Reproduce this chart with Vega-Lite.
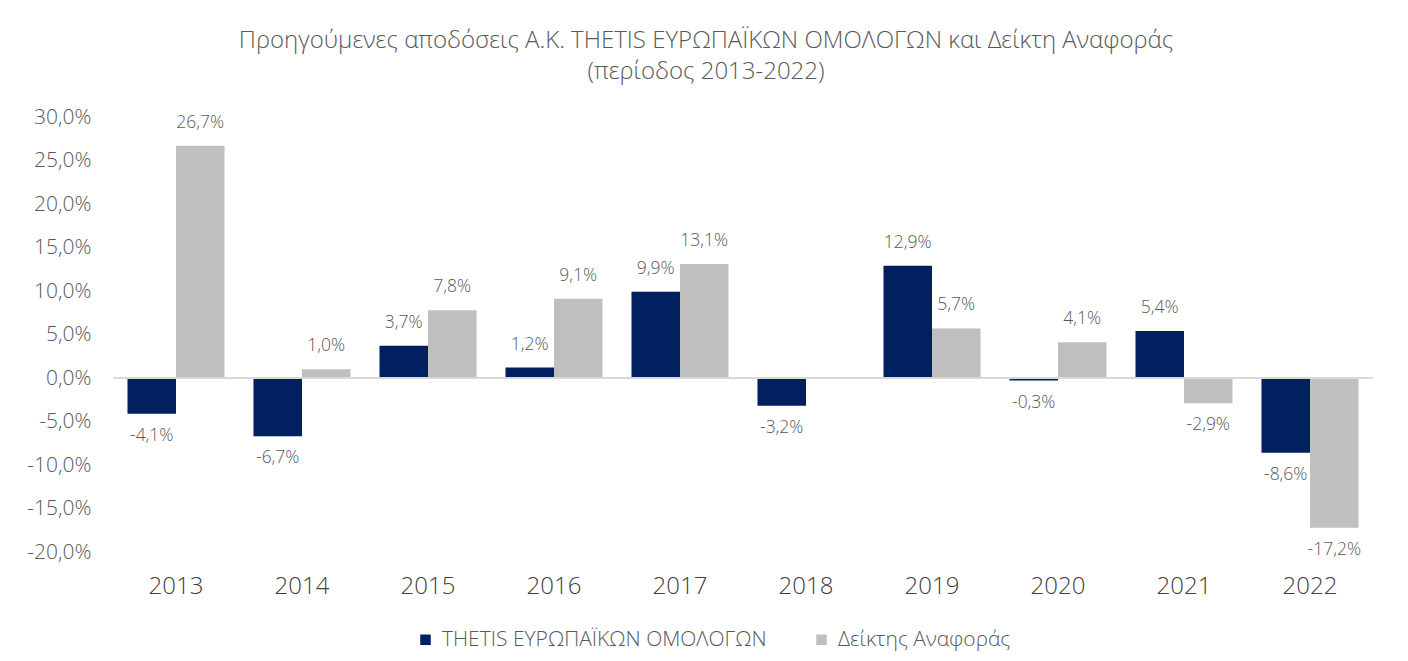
{
  "$schema": "https://vega.github.io/schema/vega-lite/v6.json",
  "width": 1260,
  "height": 435,
  "autosize": {"type": "none"},
  "padding": {"left": 113, "top": 117, "right": 35, "bottom": 109},
  "background": "white",
  "title": {
    "text": ["Προηγούμενες αποδόσεις Α.Κ. THETIS ΕΥΡΩΠΑΪΚΩΝ ΟΜΟΛΟΓΩΝ και Δείκτη Αναφοράς", "(περίοδος 2013-2022)"],
    "fontSize": 24,
    "font": "Open Sans",
    "fontWeight": 300,
    "color": "#595959",
    "lineHeight": 31,
    "offset": 22,
    "dx": -37,
    "anchor": "middle"
  },
  "config": {
    "locale": {"number": {"decimal": ",", "thousands": ".", "grouping": [3], "currency": ["", "€"], "minus": "-"}},
    "view": {"stroke": null},
    "font": "Open Sans"
  },
  "data": {
    "values": [
      {"year": "2013", "series": "THETIS ΕΥΡΩΠΑΪΚΩΝ ΟΜΟΛΟΓΩΝ", "value": -0.041},
      {"year": "2013", "series": "Δείκτης Αναφοράς", "value": 0.267},
      {"year": "2014", "series": "THETIS ΕΥΡΩΠΑΪΚΩΝ ΟΜΟΛΟΓΩΝ", "value": -0.067},
      {"year": "2014", "series": "Δείκτης Αναφοράς", "value": 0.010},
      {"year": "2015", "series": "THETIS ΕΥΡΩΠΑΪΚΩΝ ΟΜΟΛΟΓΩΝ", "value": 0.037},
      {"year": "2015", "series": "Δείκτης Αναφοράς", "value": 0.078},
      {"year": "2016", "series": "THETIS ΕΥΡΩΠΑΪΚΩΝ ΟΜΟΛΟΓΩΝ", "value": 0.012},
      {"year": "2016", "series": "Δείκτης Αναφοράς", "value": 0.091},
      {"year": "2017", "series": "THETIS ΕΥΡΩΠΑΪΚΩΝ ΟΜΟΛΟΓΩΝ", "value": 0.099},
      {"year": "2017", "series": "Δείκτης Αναφοράς", "value": 0.131},
      {"year": "2018", "series": "THETIS ΕΥΡΩΠΑΪΚΩΝ ΟΜΟΛΟΓΩΝ", "value": -0.032},
      {"year": "2019", "series": "THETIS ΕΥΡΩΠΑΪΚΩΝ ΟΜΟΛΟΓΩΝ", "value": 0.129},
      {"year": "2019", "series": "Δείκτης Αναφοράς", "value": 0.057},
      {"year": "2020", "series": "THETIS ΕΥΡΩΠΑΪΚΩΝ ΟΜΟΛΟΓΩΝ", "value": -0.003},
      {"year": "2020", "series": "Δείκτης Αναφοράς", "value": 0.041},
      {"year": "2021", "series": "THETIS ΕΥΡΩΠΑΪΚΩΝ ΟΜΟΛΟΓΩΝ", "value": 0.054},
      {"year": "2021", "series": "Δείκτης Αναφοράς", "value": -0.029},
      {"year": "2022", "series": "THETIS ΕΥΡΩΠΑΪΚΩΝ ΟΜΟΛΟΓΩΝ", "value": -0.086},
      {"year": "2022", "series": "Δείκτης Αναφοράς", "value": -0.172}
    ]
  },
  "encoding": {
    "x": {
      "field": "year",
      "type": "nominal",
      "title": null,
      "scale": {"paddingInner": 0.23, "paddingOuter": 0.115},
      "axis": {"labelAngle": 0, "labelFontSize": 24, "labelFontWeight": 300, "labelColor": "#404040", "domain": false, "ticks": false, "labelPadding": 22}
    },
    "xOffset": {"field": "series", "type": "nominal", "scale": {"domain": ["THETIS ΕΥΡΩΠΑΪΚΩΝ ΟΜΟΛΟΓΩΝ", "Δείκτης Αναφοράς"]}},
    "y": {
      "field": "value",
      "type": "quantitative",
      "title": null,
      "scale": {"domain": [-0.2, 0.3], "nice": false, "zero": false},
      "axis": {"values": [-0.2, -0.15, -0.1, -0.05, 0, 0.05, 0.1, 0.15, 0.2, 0.25, 0.3], "format": ".1%", "labelFontSize": 21, "labelFontWeight": 300, "labelColor": "#595959", "grid": false, "domain": false, "ticks": false, "labelPadding": 22}
    }
  },
  "layer": [
    {
      "mark": {"type": "bar"},
      "encoding": {
        "color": {
          "field": "series",
          "type": "nominal",
          "scale": {"domain": ["THETIS ΕΥΡΩΠΑΪΚΩΝ ΟΜΟΛΟΓΩΝ", "Δείκτης Αναφοράς"], "range": ["#002060", "#BFBFBF"]},
          "legend": {
            "title": null,
            "orient": "none",
            "legendX": 302,
            "legendY": 512,
            "direction": "horizontal",
            "symbolType": "square",
            "symbolSize": 110,
            "symbolStrokeWidth": 0,
            "labelFontSize": 21,
            "labelFontWeight": 300,
            "labelColor": "#595959",
            "labelLimit": 0,
            "columnPadding": 44,
            "labelOffset": 6
          }
        }
      }
    },
    {
      "mark": {"type": "rule", "color": "#D9D9D9", "strokeWidth": 1.5},
      "encoding": {"y": {"datum": 0}, "x": null, "xOffset": null}
    },
    {
      "transform": [{"filter": "datum.value >= 0"}],
      "mark": {"type": "text", "baseline": "bottom", "dy": -14, "fontSize": 17.5, "fontWeight": 300, "color": "#595959"},
      "encoding": {"text": {"field": "value", "type": "quantitative", "format": ".1%"}}
    },
    {
      "transform": [{"filter": "datum.value < 0"}],
      "mark": {"type": "text", "baseline": "top", "dy": 13, "fontSize": 17.5, "fontWeight": 300, "color": "#595959"},
      "encoding": {"text": {"field": "value", "type": "quantitative", "format": ".1%"}}
    }
  ]
}
